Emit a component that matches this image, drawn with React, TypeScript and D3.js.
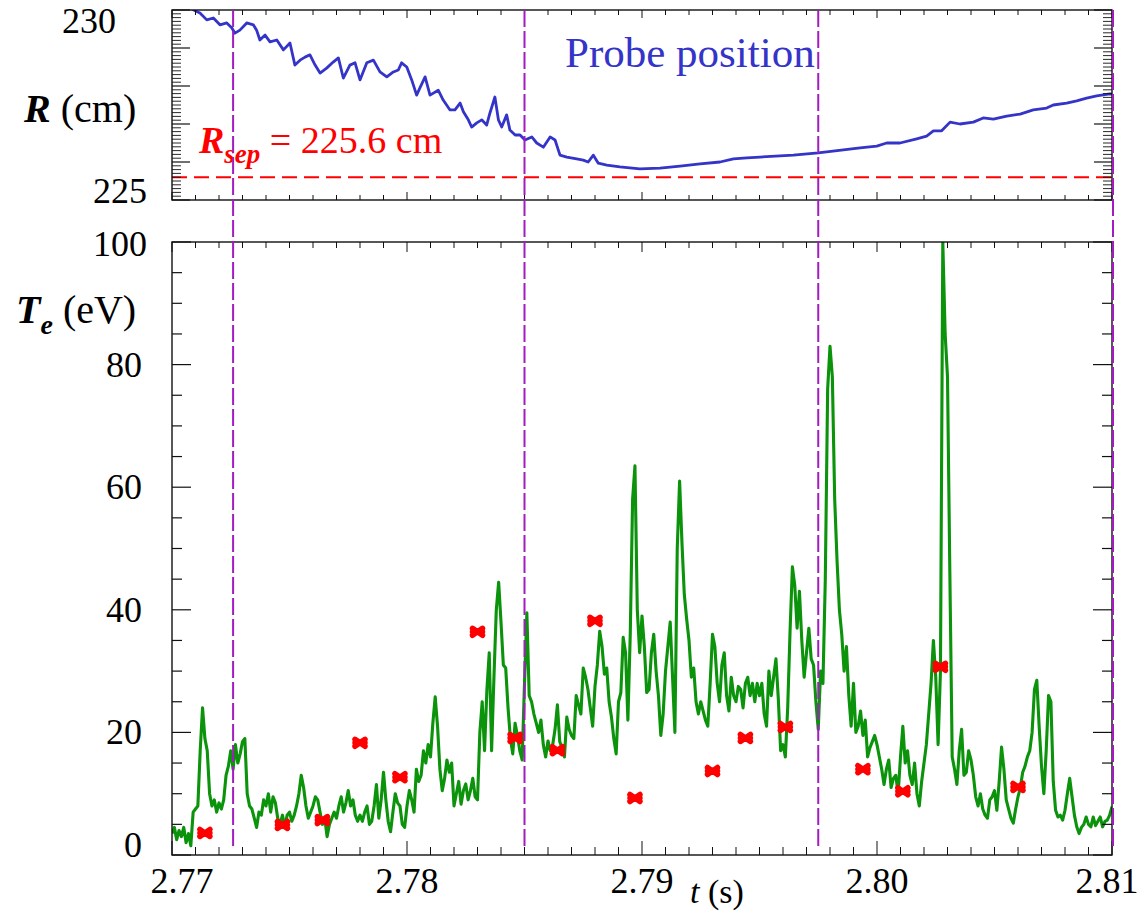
import React from "react";
import * as d3 from "d3";

// ---------- data ----------
// Probe position R (cm) vs time (s)
const rTimes = [
  2.77, 2.77077, 2.77105, 2.77119, 2.77148, 2.77176, 2.77204, 2.77233, 2.77254, 2.77268,
  2.77289, 2.77318, 2.77346, 2.7736, 2.77374, 2.77396, 2.77417, 2.77446, 2.77474, 2.77502,
  2.77523, 2.77545, 2.77566, 2.77587, 2.77609, 2.7763, 2.77658, 2.77686, 2.77708, 2.77729,
  2.77757, 2.77779, 2.778, 2.77829, 2.77857, 2.77885, 2.77914, 2.77942, 2.77963, 2.77977,
  2.77999, 2.7802, 2.78041, 2.78055, 2.78077, 2.78098, 2.78133, 2.78154, 2.78183, 2.78204,
  2.78226, 2.7824, 2.78261, 2.78275, 2.78297, 2.78318, 2.78339, 2.78353, 2.78374, 2.78389,
  2.78403, 2.78424, 2.78438, 2.7846, 2.78481, 2.78502, 2.78531, 2.78552, 2.7858, 2.78609,
  2.7863, 2.78651, 2.7868, 2.78722, 2.7875, 2.78771, 2.78793, 2.78814, 2.7885, 2.78906,
  2.78991, 2.79077, 2.79162, 2.79247, 2.79332, 2.79389, 2.79446, 2.79502, 2.79587, 2.79644,
  2.7975, 2.79857, 2.79928, 2.79999, 2.80041, 2.80098, 2.80169, 2.80211, 2.8024, 2.80275,
  2.80311, 2.80353, 2.8041, 2.80452, 2.80495, 2.80552, 2.80609, 2.80665, 2.80722, 2.8075,
  2.80807, 2.8085, 2.80892, 2.80935, 2.80991, 2.81,
];
const rValues = [
  230.16, 230.05, 229.96, 229.92, 229.74, 229.79, 229.61, 229.66, 229.53, 229.39,
  229.47, 229.66, 229.61, 229.47, 229.21, 229.34, 229.16, 229.21, 228.95, 229.13,
  228.55, 228.68, 228.76, 228.82, 228.55, 228.34, 228.47, 228.63, 228.74, 228.21,
  228.55, 228.61, 228.16, 228.61, 228.68, 228.37, 228.24, 228.37, 228.42, 228.61,
  228.5, 228.16, 227.76, 227.95, 228.24, 227.76, 227.89, 227.63, 227.37, 227.37,
  227.55, 227.32, 227.11, 226.92, 227.03, 227.11, 226.97, 227.29, 227.71, 227.11,
  226.92, 227.24, 226.84, 226.71, 226.71, 226.58, 226.66, 226.5, 226.39, 226.66,
  226.58, 226.18, 226.13, 226.08, 226.05, 226.0, 226.18, 225.97, 225.92, 225.87,
  225.82, 225.84, 225.89, 225.95, 226.0, 226.08, 226.11, 226.13, 226.16, 226.18,
  226.24, 226.32, 226.37, 226.42, 226.5, 226.5, 226.61, 226.68, 226.82, 226.82,
  227.05, 227.0, 227.05, 227.16, 227.13, 227.21, 227.26, 227.37, 227.42, 227.5,
  227.55, 227.61, 227.68, 227.74, 227.79, 227.79,
];
const rSep = 225.6;

// Electron temperature Te (eV), sampled every 0.1 ms from 2.7700 s
const teStart = 2.77;
const teStep = 0.0001;
const teValues = [
  3.5, 4.5, 2.5, 4, 3, 4.5, 2, 3.5, 1.5, 7,
  7.5, 8, 17, 24, 19, 17, 10, 8, 9, 7,
  8.5, 7.5, 9, 13, 14.5, 17, 14, 18, 15, 16.5,
  18.5, 19, 10, 8, 7.5, 6, 4.5, 7, 6.5, 9,
  8, 10, 7, 9.5, 8.5, 6, 5, 6.5, 4.5, 6.5,
  7, 5.5, 6.5, 8, 10, 13, 11, 8, 6, 7,
  8, 9.5, 9, 7, 5, 6, 3, 5, 6, 7,
  6, 8, 9.5, 7, 8.5, 10.5, 8, 9, 6.5, 5.5,
  6.5, 5.5, 7, 8, 5, 5.5, 8, 11.5, 6, 9,
  13.5, 9, 5.5, 3.8, 7, 10, 8.5, 8, 5, 4.5,
  8, 10.5, 9, 7, 14, 12, 13, 17, 15, 18,
  16, 21.5, 25.8, 21, 14, 10.5, 12.5, 15.5, 13.5, 15,
  8, 10, 12, 8.3, 10.5, 11.6, 9, 10.5, 12.5, 9.5,
  9, 20, 25, 17, 27, 33, 17, 29, 40, 44.5,
  38, 31, 30.5, 24, 19, 16.5, 21.5, 19.5, 17, 15.5,
  28, 39.5, 26, 25, 23, 21.5, 20, 22, 18, 16,
  18.6, 17, 18, 20.5, 24.5, 18.5, 17.5, 16, 22.5, 20.5,
  19.5, 19, 26, 24.5, 23, 30.5, 29, 27, 24, 21,
  27.5, 31, 36.5, 34, 29.5, 30.5, 25, 22.5, 19, 16.5,
  25, 26.5, 35.5, 33, 22, 36, 58, 63.5, 40, 33,
  39, 34, 26.5, 27, 33, 36, 30, 26, 19.5, 23,
  30, 34, 38, 29, 20, 50, 61, 51, 42.5, 38.5,
  35, 29, 30.5, 25, 23, 25, 23.5, 22, 21, 28,
  36, 34, 28, 25, 31, 33, 26, 23.5, 29, 26,
  25, 27.5, 27, 24, 28, 29, 26, 28, 25, 28,
  26, 28, 23, 21, 30, 26, 29, 32, 25.5, 17,
  18, 16, 24, 36.5, 47, 44, 37, 43, 35, 29,
  33, 37, 32, 31, 25, 20.5, 30, 28, 45, 76,
  83, 78, 58, 48, 40, 36, 30, 34, 26, 21,
  28, 20, 21, 23.5, 19.5, 22, 16, 17.5, 18.5, 19.5,
  18, 16, 14, 11.5, 14, 15.5, 11, 12.5, 13, 10,
  16, 21, 15, 17, 13, 11.5, 15, 10, 8, 12,
  15, 18, 23, 28, 35, 29, 18, 30, 100, 85,
  78, 46, 16, 14, 11.5, 17, 20.5, 13, 13.5, 17,
  15.5, 13, 9.5, 8, 10, 7.5, 6.5, 6, 9, 9.5,
  10.5, 7.3, 12, 17.6, 14, 9, 7.5, 6, 5.2, 7.5,
  9.5, 11, 13.5, 14.5, 16, 17, 20, 27, 28.5, 21,
  14.5, 10, 17, 26, 25, 12, 7.3, 6.2, 6.5, 5.7,
  7.3, 10, 12.5, 9.5, 6.5, 4.6, 3.5, 4.5, 5, 6.2,
  5, 4.6, 6.2, 4.8, 5.5, 6.2, 4.6, 5.5, 5.7, 6.5, 7.9,
];

// Red markers (other diagnostic)
const markerTimes = [
  2.7714, 2.7747, 2.7764, 2.778, 2.7797, 2.783, 2.7846, 2.7864, 2.788,
  2.7897, 2.793, 2.7944, 2.7961, 2.7994, 2.8011, 2.8027, 2.806,
];
const markerTe = [
  3.6, 4.9, 5.7, 18.3, 12.7, 36.4, 19.1, 17.1, 38.2,
  9.3, 13.7, 19.1, 20.9, 14.0, 10.4, 30.7, 11.1,
];

// Vertical reference times (dashed purple)
const refTimes = [2.7726, 2.785, 2.7975, 2.81];

// Axes
const tDomain = [2.77, 2.81];
const tLabels = ["2.77", "2.78", "2.79", "2.80", "2.81"];
const rDomain = [225, 230];
const rLabels = ["225", "230"];
const teDomain = [0, 100];
const teLabels = ["0", "20", "40", "60", "80", "100"];

// ---------- layout ----------
const W = 1139;
const H = 913;
const PL = 172;
const PR = 1112;
const T1 = 10;
const B1 = 200;
const T2 = 242;
const B2 = 855;

const FONT = "Liberation Serif";
const BLUE = "#3434c8";
const GREEN = "#0b930b";
const PURPLE = "#a21cc0";
const RED = "#ff0000";

const tf = { fontFamily: FONT };

export default function App() {
  const x = d3.scaleLinear().domain(tDomain).range([PL, PR]);
  const yR = d3.scaleLinear().domain(rDomain).range([B1, T1]);
  const yT = d3.scaleLinear().domain(teDomain).range([B2, T2]);

  const rLine = d3
    .line<number>()
    .x((_, i) => x(rTimes[i]))
    .y((d) => yR(d));
  const teLine = d3
    .line<number>()
    .x((_, i) => x(teStart + i * teStep))
    .y((d) => yT(d));

  const tMinor = d3.range(0, 41).map((i) => tDomain[0] + i * 0.001);
  const rMinor = d3.range(0, 51).map((i) => rDomain[0] + i * 0.1);
  const teMinor = d3.range(0, 21).map((i) => i * 5);

  const ticks: React.ReactNode[] = [];
  const tk = (k: string, x1: number, y1: number, x2: number, y2: number, w = 1) =>
    ticks.push(<line key={k} x1={x1} y1={y1} x2={x2} y2={y2} stroke="#111" strokeWidth={w} />);

  tMinor.forEach((t, i) => {
    const major = i % 10 === 0;
    const px = x(t);
    tk(`a${i}`, px, T1, px, T1 + (major ? 8 : 5));
    tk(`b${i}`, px, B1, px, B1 - (major ? 8 : 5));
    tk(`c${i}`, px, T2, px, T2 + (major ? 10 : 6));
    tk(`d${i}`, px, B2, px, B2 - (major ? 14 : 8));
  });
  rMinor.forEach((r, i) => {
    const major = i % 10 === 0;
    const py = yR(r);
    const len = major ? 18 : 9;
    tk(`e${i}`, PL, py, PL + len, py, major ? 1.2 : 0.9);
    tk(`f${i}`, PR, py, PR - len, py, major ? 1.2 : 0.9);
  });
  teMinor.forEach((v, i) => {
    const major = i % 4 === 0;
    const py = yT(v);
    const len = major ? 19 : 10;
    tk(`g${i}`, PL, py, PL + len, py, 1.2);
    tk(`h${i}`, PR, py, PR - len, py, 1.2);
  });

  const teLabelDy = (v: number) => (v === 0 ? 2 : v === 100 ? 14 : 12);
  const rLabelPos = (v: number) => (v === 230 ? { dy: 23, xe: 116 } : { dy: 3, xe: 147 });

  return (
    <svg
      width={W}
      height={H}
      style={{ position: "absolute", left: 0, top: 0, background: "#fff", fontFamily: FONT }}
    >
      <defs>
        <clipPath id="clipTop">
          <rect x={PL} y={T1} width={PR - PL} height={B1 - T1} />
        </clipPath>
        <clipPath id="clipBot">
          <rect x={PL} y={T2} width={PR - PL} height={B2 - T2} />
        </clipPath>
      </defs>
      <rect x={0} y={0} width={W} height={H} fill="#fff" />

      {/* ---------- top panel ---------- */}
      <line
        x1={PL}
        x2={PR}
        y1={yR(rSep)}
        y2={yR(rSep)}
        stroke={RED}
        strokeWidth={2}
        strokeDasharray="15,7"
      />
      <path
        d={rLine(rValues) || ""}
        fill="none"
        stroke={BLUE}
        strokeWidth={2.8}
        strokeLinejoin="round"
        clipPath="url(#clipTop)"
      />
      <rect x={PL} y={T1} width={PR - PL} height={B1 - T1} fill="none" stroke="#111" strokeWidth={1.4} />

      <text x={565} y={67} fontSize={43} fill={BLUE} style={tf}>
        Probe position
      </text>
      <text x={199} y={153} fontSize={38} fill={RED} style={tf}>
        <tspan fontWeight="bold" fontStyle="italic">R</tspan>
        <tspan fontWeight="bold" fontStyle="italic" fontSize={27} dy={10}>sep</tspan>
        <tspan dy={-10}>{" = 225.6 cm"}</tspan>
      </text>

      {rLabels.map((l) => {
        const v = +l;
        const p = rLabelPos(v);
        return (
          <text key={l} x={p.xe} y={yR(v) + p.dy} fontSize={36} textAnchor="end" fill="#000" style={tf}>
            {l}
          </text>
        );
      })}
      <text x={24} y={122} fontSize={40} fill="#000" style={tf}>
        <tspan fontWeight="bold" fontStyle="italic">R</tspan>
        <tspan>{" (cm)"}</tspan>
      </text>

      {/* ---------- bottom panel ---------- */}
      <path
        d={teLine(teValues) || ""}
        fill="none"
        stroke={GREEN}
        strokeWidth={3.1}
        strokeLinejoin="round"
        clipPath="url(#clipBot)"
      />
      {markerTimes.map((t, i) => (
        <path
          key={i}
          transform={`translate(${x(t)},${yT(markerTe[i])})`}
          d="M-5,-3.5 L5,3.5 M-5,3.5 L5,-3.5 M-5,0 L5,0"
          stroke={RED}
          strokeWidth={5.5}
          strokeLinecap="round"
          fill="none"
        />
      ))}
      <rect x={PL} y={T2} width={PR - PL} height={B2 - T2} fill="none" stroke="#111" strokeWidth={1.4} />

      {teLabels.map((l) => {
        const v = +l;
        return (
          <text
            key={l}
            x={v === 100 ? 147 : 142}
            y={yT(v) + teLabelDy(v)}
            fontSize={36}
            textAnchor="end"
            fill="#000"
            style={tf}
          >
            {l}
          </text>
        );
      })}
      <text x={16} y={323} fontSize={40} fill="#000" style={tf}>
        <tspan fontWeight="bold" fontStyle="italic">T</tspan>
        <tspan fontWeight="bold" fontStyle="italic" fontSize={28} dy={11}>e</tspan>
        <tspan dy={-11}>{" (eV)"}</tspan>
      </text>

      {tLabels.map((l, i) => (
        <text
          key={l}
          x={x(+l) + (i === 0 ? 10 : i === tLabels.length - 1 ? -5 : 0)}
          y={893}
          fontSize={36}
          textAnchor="middle"
          fill="#000"
          style={tf}
        >
          {l}
        </text>
      ))}
      <text x={690} y={903} fontSize={34} fill="#000" style={tf}>
        <tspan fontStyle="italic">t</tspan>
        <tspan>{" (s)"}</tspan>
      </text>

      {ticks}

      {refTimes.map((t, i) => (
        <line
          key={i}
          x1={x(t) + (i === refTimes.length - 1 ? 1 : 0)}
          x2={x(t) + (i === refTimes.length - 1 ? 1 : 0)}
          y1={T1}
          y2={B2 - 7}
          stroke={PURPLE}
          strokeWidth={2}
          strokeDasharray="17,4"
        />
      ))}
    </svg>
  );
}
